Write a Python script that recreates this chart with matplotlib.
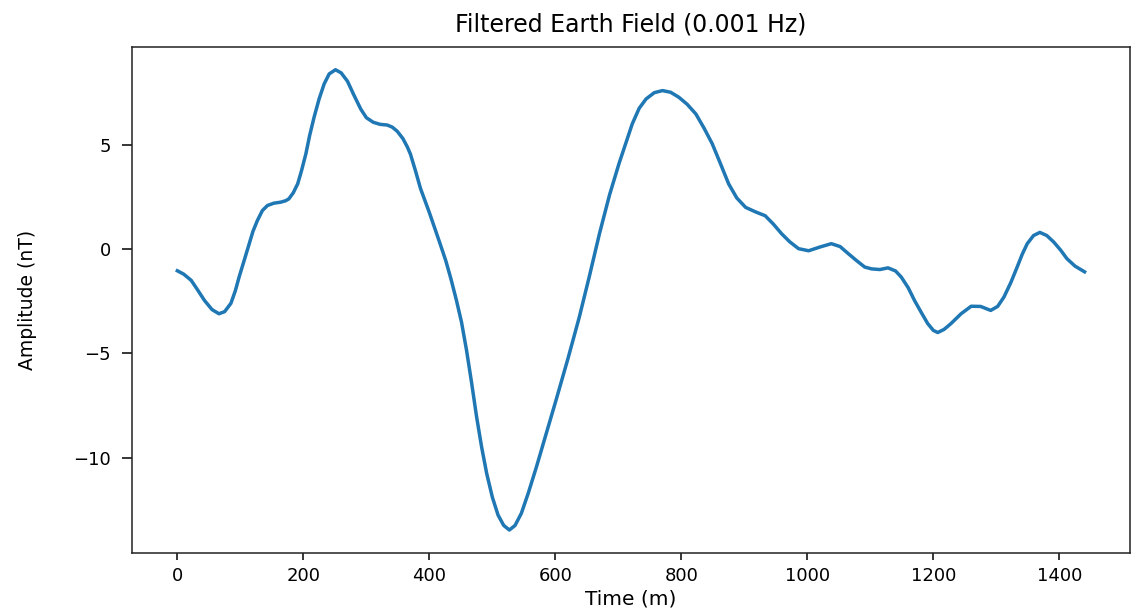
import matplotlib
matplotlib.use("Agg")
import matplotlib.pyplot as plt
import numpy as np

# values (time in minutes, amplitude in nT)
time_min = [0, 10, 22, 32, 43, 55, 66, 75, 85, 92, 98, 106, 114, 120, 127, 135,
            143, 153, 164, 172, 177, 184, 191, 197, 204, 210, 217, 225, 233, 241,
            251, 260, 270, 280, 291, 300, 311, 322, 333, 341, 349, 358, 365, 370,
            378, 386, 391, 400, 408, 417, 426, 434, 443, 451, 459, 467, 475, 483,
            491, 500, 509, 518, 527, 536, 546, 557, 570, 586, 601, 620, 638, 654,
            670, 686, 701, 712, 722, 733, 744, 757, 770, 783, 796, 809, 823, 836,
            849, 862, 875, 888, 902, 918, 933, 946, 959, 972, 986, 1002, 1020,
            1038, 1052, 1065, 1078, 1091, 1102, 1115, 1128, 1140, 1149, 1160,
            1170, 1181, 1191, 1200, 1207, 1217, 1228, 1244, 1260, 1275, 1291,
            1302, 1312, 1323, 1333, 1341, 1349, 1359, 1369, 1380, 1391, 1402,
            1412, 1425, 1440]
amplitude_nT = [-1.04, -1.2, -1.5, -1.95, -2.46, -2.9, -3.1, -3.0, -2.6, -2.0,
                -1.34, -0.55, 0.26, 0.85, 1.37, 1.85, 2.09, 2.2, 2.25, 2.32, 2.41,
                2.7, 3.13, 3.75, 4.57, 5.45, 6.32, 7.2, 7.92, 8.4, 8.6, 8.45, 8.05,
                7.4, 6.72, 6.3, 6.08, 5.98, 5.95, 5.85, 5.65, 5.3, 4.9, 4.55, 3.75,
                2.9, 2.49, 1.75, 1.05, 0.26, -0.55, -1.4, -2.46, -3.5, -4.85, -6.4,
                -8.05, -9.5, -10.76, -11.9, -12.75, -13.25, -13.47, -13.25, -12.67,
                -11.7, -10.44, -8.8, -7.25, -5.25, -3.26, -1.3, 0.74, 2.6, 4.1, 5.1,
                6.0, 6.75, 7.2, 7.5, 7.6, 7.52, 7.28, 6.95, 6.48, 5.8, 5.05, 4.1,
                3.13, 2.45, 2.0, 1.78, 1.6, 1.2, 0.74, 0.35, 0.02, -0.08, 0.1, 0.26,
                0.12, -0.22, -0.55, -0.86, -0.95, -0.98, -0.9, -1.05, -1.34, -1.85,
                -2.46, -3.05, -3.57, -3.9, -4.0, -3.85, -3.57, -3.1, -2.74, -2.75,
                -2.94, -2.75, -2.3, -1.6, -0.86, -0.25, 0.26, 0.65, 0.8, 0.65, 0.34,
                -0.05, -0.46, -0.82, -1.09]

title = "Filtered Earth Field (0.001 Hz)"
xlabel = "Time (m)"
ylabel = "Amplitude (nT)"

fig = plt.figure(figsize=(11.33, 6.14), dpi=100)
ax = fig.add_axes([0.1165, 0.0993, 0.8808, 0.8246])

ax.plot(time_min, amplitude_nT, color="#1f77b4", lw=2.5)

ax.set_xticks(np.arange(0, 1401, 200))
ax.set_yticks([-10, -5, 0, 5])
ax.tick_params(labelsize=13, width=1.1)
ax.tick_params(axis="x", length=5, pad=5)
ax.tick_params(axis="y", length=7, pad=8)
for s in ax.spines.values():
    s.set_linewidth(1.1)
    s.set_color("#222222")

ax.set_title(title, fontsize=17, pad=11)
ax.set_xlabel(xlabel, fontsize=14.5, labelpad=3)
ax.set_ylabel(ylabel, fontsize=13.5, labelpad=26)

fig.savefig("out.png", dpi=100)
